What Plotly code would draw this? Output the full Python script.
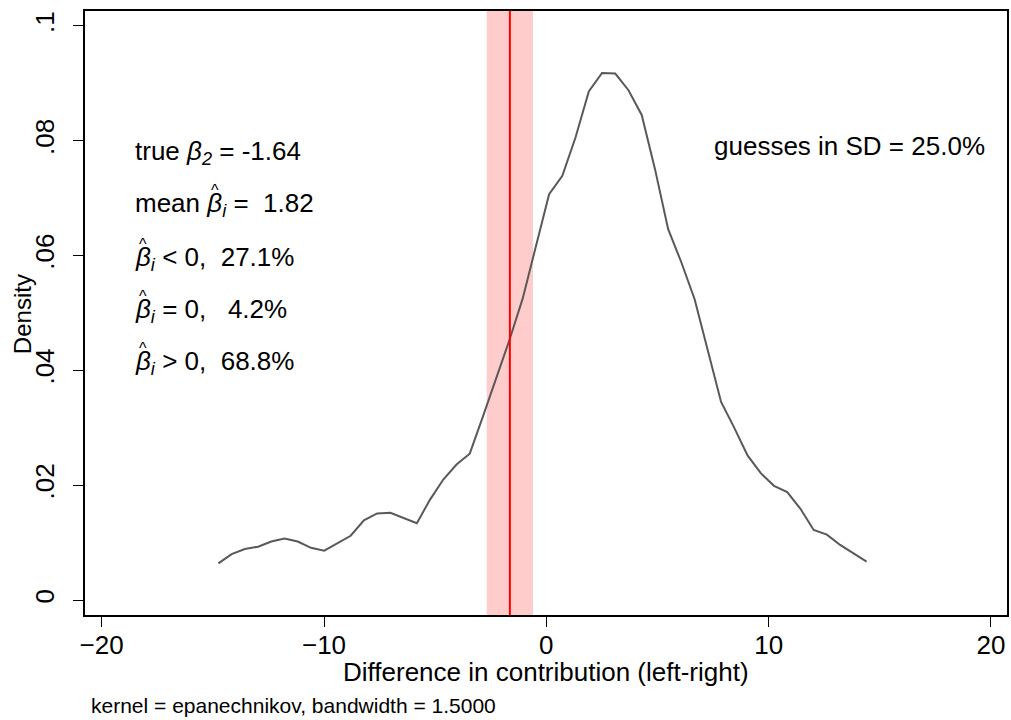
import plotly.graph_objects as go

# KDE curve
x_vals = [-14.75, -14.155, -13.56, -12.965, -12.37, -11.775, -11.18, -10.585, -9.99, -9.395,
          -8.80, -8.205, -7.61, -7.015, -6.42, -5.825, -5.23, -4.635, -4.04, -3.445,
          -2.85, -2.255, -1.66, -1.065, -0.47, 0.125, 0.72, 1.315, 1.91, 2.505,
          3.10, 3.695, 4.29, 4.885, 5.48, 6.075, 6.67, 7.265, 7.86, 8.455,
          9.05, 9.645, 10.24, 10.835, 11.43, 12.025, 12.62, 13.215, 13.81, 14.405]
density = [0.0064, 0.0080, 0.0089, 0.0093, 0.0102, 0.0107, 0.0102, 0.0091, 0.0086, 0.0099,
           0.0112, 0.0139, 0.0151, 0.0152, 0.0143, 0.0134, 0.0175, 0.0210, 0.0236, 0.0255,
           0.0320, 0.0385, 0.0453, 0.0525, 0.0615, 0.0707, 0.0739, 0.0806, 0.0886, 0.0918,
           0.0917, 0.0888, 0.0845, 0.0751, 0.0646, 0.0588, 0.0524, 0.0437, 0.0345, 0.0300,
           0.0252, 0.0221, 0.0199, 0.0188, 0.0159, 0.0122, 0.0114, 0.0096, 0.0082, 0.0067]

true_beta = -1.64
band_low, band_high = -2.68, -0.60

x_ticks = [-20, -10, 0, 10, 20]
y_ticks = [0, 0.02, 0.04, 0.06, 0.08, 0.1]
y_tick_text = ["0", ".02", ".04", ".06", ".08", ".1"]

NB = "\u00a0"
stats_lines = [
    "true <i>β<sub>2</sub></i> = -1.64",
    "mean <i>β<sub>i</sub></i> =" + NB + NB + "1.82",
    "<i>β<sub>i</sub></i> < 0," + NB + NB + "27.1%",
    "<i>β<sub>i</sub></i> = 0," + NB + NB + NB + "4.2%",
    "<i>β<sub>i</sub></i> > 0," + NB + NB + "68.8%",
]
# which lines carry a hat over beta, and beta's left offset in px from text start
hat_offsets = [None, 72, 0, 0, 0]
sd_text = "guesses in SD = 25.0%"
note_text = "kernel = epanechnikov, bandwidth = 1.5000"
x_title = "Difference in contribution (left-right)"
y_title = "Density"

FONT = "Liberation Sans, Arial, sans-serif"
W, H = 1011, 720
L, R, T, B = 85, 2, 11, 105

fig = go.Figure()
fig.add_vrect(x0=band_low, x1=band_high, fillcolor="#FFCCCC", line_width=0, layer="below")
fig.add_trace(go.Scatter(x=x_vals, y=density, mode="lines",
                         line=dict(color="#595959", width=2), showlegend=False))
fig.add_vline(x=true_beta, line=dict(color="#FF0000", width=2))

def py2p(py):
    return (H - B - py) / (H - T - B)

def px2p(px):
    return (px - L) / (W - L - R)

TEXT_X = 133
line_ys = [152, 205, 258, 310, 362]
for txt, py, hoff in zip(stats_lines, line_ys, hat_offsets):
    fig.add_annotation(x=px2p(TEXT_X), y=py2p(py), xref="paper", yref="paper",
                       text=txt, showarrow=False, xanchor="left", yanchor="middle",
                       font=dict(family=FONT, size=26, color="black"))
    if hoff is not None:
        fig.add_annotation(x=px2p(TEXT_X + hoff + 10), y=py2p(py - 14), xref="paper", yref="paper",
                           text="^", showarrow=False, xanchor="center", yanchor="middle",
                           font=dict(family=FONT, size=16, color="black"))

fig.add_annotation(x=px2p(989), y=py2p(146), xref="paper", yref="paper",
                   text=sd_text, showarrow=False, xanchor="right", yanchor="middle",
                   font=dict(family=FONT, size=26, color="black"))

fig.add_annotation(x=px2p(89), y=py2p(705), xref="paper", yref="paper",
                   text=note_text, showarrow=False, xanchor="left", yanchor="middle",
                   font=dict(family=FONT, size=21, color="black"))

fig.add_annotation(x=px2p(547), y=py2p(672), xref="paper", yref="paper",
                   text=x_title, showarrow=False, xanchor="center", yanchor="middle",
                   font=dict(family=FONT, size=26, color="black"))

fig.add_annotation(x=px2p(22), y=py2p(314), xref="paper", yref="paper",
                   text=y_title, showarrow=False, xanchor="center", yanchor="middle",
                   textangle=-90, font=dict(family=FONT, size=24, color="black"))

fig.update_layout(
    width=W, height=H,
    margin=dict(l=L, r=R, t=T, b=B, pad=0),
    paper_bgcolor="white", plot_bgcolor="white",
    font=dict(family=FONT, color="black"),
    xaxis=dict(range=[-20.75, 20.72], tickvals=x_ticks, ticks="outside", ticklen=10,
               tickwidth=1.2, tickcolor="black", showgrid=False, zeroline=False,
               showline=True, linecolor="black", linewidth=2, mirror=True,
               ticklabelstandoff=-4,
               tickfont=dict(size=26, family=FONT)),
    yaxis=dict(range=[-0.0026, 0.1026], tickvals=y_ticks, ticktext=y_tick_text,
               ticks="outside", ticklen=10, tickwidth=1.2, tickcolor="black",
               tickangle=-90, showgrid=False, zeroline=False, ticklabelstandoff=9,
               showline=True, linecolor="black", linewidth=2, mirror=True,
               tickfont=dict(size=26, family=FONT)),
)

fig.write_html("out.html")
